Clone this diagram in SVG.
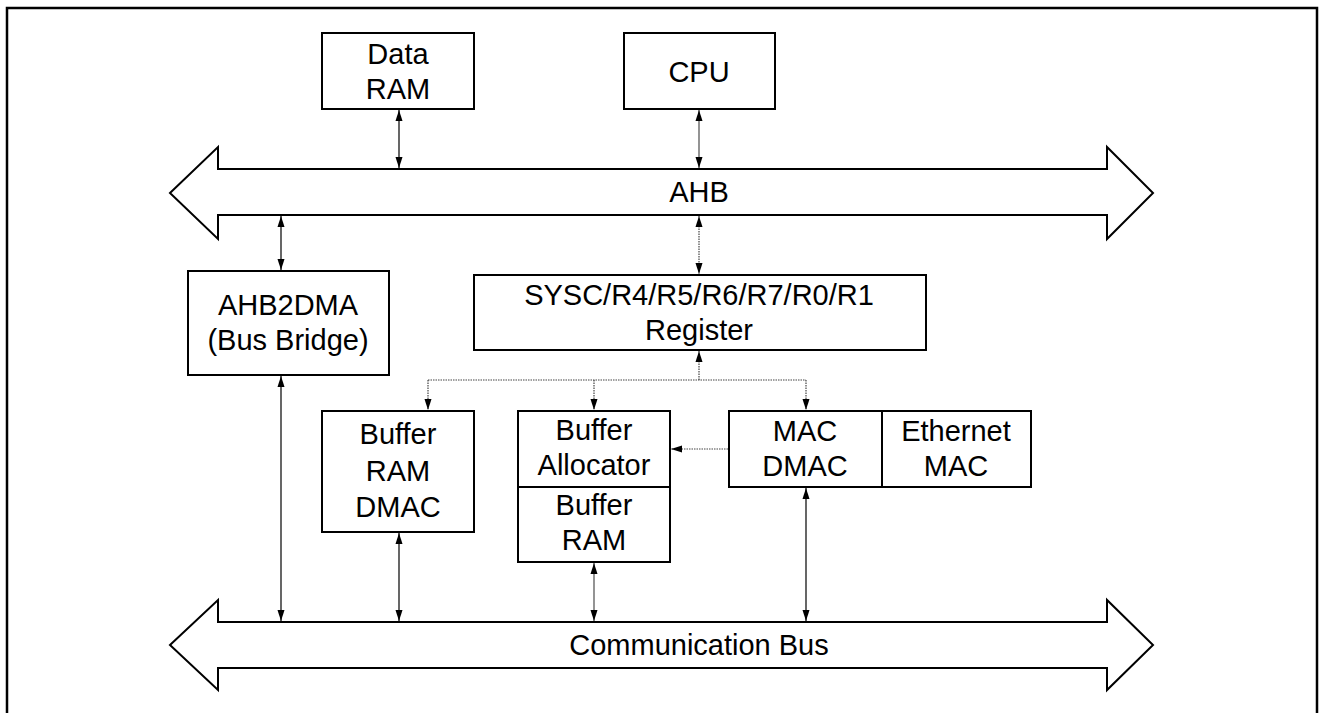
<svg xmlns="http://www.w3.org/2000/svg" width="1322" height="713" viewBox="0 0 1322 713">
<style>
.box{fill:#fff;stroke:#000;stroke-width:2}
.bus{fill:#fff;stroke:#000;stroke-width:2;stroke-linejoin:miter}
.t{font-family:"Liberation Sans",Arial,sans-serif;font-size:29px;fill:#000;text-anchor:middle}
.c{fill:none;stroke:#000;stroke-width:1.2}
.g{fill:none;stroke:#666;stroke-width:1.4}
.d{fill:none;stroke:#444;stroke-width:1.2;stroke-dasharray:1.5 1}
</style>
<defs>
<marker id="ah" markerWidth="11" markerHeight="8" refX="11" refY="4" orient="auto-start-reverse" markerUnits="userSpaceOnUse">
<path d="M0,0.5 L11,4 L0,7.5 z" fill="#000"/>
</marker>
</defs>
<rect width="1322" height="713" fill="#fff"/>
<path d="M7,713 V8 H1317 V713" fill="none" stroke="#000" stroke-width="2.5"/>

<g id="ahb">
<path class="bus" d="M170,193 L218,147 V169 H1107 V147 L1153,193 L1107,239 V215 H218 V239 Z"/>
<text class="t" x="699" y="202">AHB</text>
</g>
<g id="comm-bus">
<path class="bus" d="M170,645 L218,600 V622 H1107 V600 L1153,645 L1107,690 V668 H218 V690 Z"/>
<text class="t" x="699" y="655">Communication Bus</text>
</g>

<g id="data-ram">
<rect class="box" x="322" y="33" width="152" height="76"/>
<text class="t" x="398" y="64">Data</text>
<text class="t" x="398" y="99">RAM</text>
</g>
<g id="cpu">
<rect class="box" x="624" y="33" width="151" height="76"/>
<text class="t" x="699" y="82">CPU</text>
</g>
<g id="ahb2dma">
<rect class="box" x="188" y="271" width="201" height="104"/>
<text class="t" x="288" y="315">AHB2DMA</text>
<text class="t" x="288" y="350">(Bus Bridge)</text>
</g>
<g id="register">
<rect class="box" x="474" y="275" width="452" height="75"/>
<text class="t" x="699" y="305">SYSC/R4/R5/R6/R7/R0/R1</text>
<text class="t" x="699" y="340">Register</text>
</g>
<g id="buffer-ram-dmac">
<rect class="box" x="322" y="411" width="152" height="121"/>
<text class="t" x="398" y="444">Buffer</text>
<text class="t" x="398" y="481">RAM</text>
<text class="t" x="398" y="517">DMAC</text>
</g>
<g id="buffer-allocator">
<rect class="box" x="518" y="411" width="152" height="76"/>
<text class="t" x="594" y="440">Buffer</text>
<text class="t" x="594" y="475">Allocator</text>
</g>
<g id="buffer-ram">
<rect class="box" x="518" y="487" width="152" height="75"/>
<text class="t" x="594" y="515">Buffer</text>
<text class="t" x="594" y="550">RAM</text>
</g>
<g id="mac-dmac">
<rect class="box" x="729" y="411" width="153" height="76"/>
<text class="t" x="805" y="441">MAC</text>
<text class="t" x="805" y="476">DMAC</text>
</g>
<g id="ethernet-mac">
<rect class="box" x="882" y="411" width="149" height="76"/>
<text class="t" x="956" y="441">Ethernet</text>
<text class="t" x="956" y="476">MAC</text>
</g>

<g id="connectors">
<line class="c" x1="399" y1="110" x2="399" y2="168" marker-start="url(#ah)" marker-end="url(#ah)"/>
<line class="g" x1="699" y1="110" x2="699" y2="168" marker-start="url(#ah)" marker-end="url(#ah)"/>
<line class="c" x1="281" y1="216" x2="281" y2="270" marker-start="url(#ah)" marker-end="url(#ah)"/>
<line class="d" x1="699" y1="216" x2="699" y2="274" marker-start="url(#ah)" marker-end="url(#ah)"/>
<line class="d" x1="699" y1="380" x2="699" y2="351" marker-end="url(#ah)"/>
<line class="d" x1="428" y1="380" x2="806" y2="380"/>
<line class="d" x1="428" y1="380" x2="428" y2="410" marker-end="url(#ah)"/>
<line class="d" x1="594" y1="380" x2="594" y2="410" marker-end="url(#ah)"/>
<line class="d" x1="806" y1="380" x2="806" y2="410" marker-end="url(#ah)"/>
<line class="d" x1="728" y1="449" x2="671" y2="449" marker-end="url(#ah)"/>
<line class="c" x1="281" y1="376" x2="281" y2="621" marker-start="url(#ah)" marker-end="url(#ah)"/>
<line class="c" x1="399" y1="533" x2="399" y2="621" marker-start="url(#ah)" marker-end="url(#ah)"/>
<line class="g" x1="594" y1="563" x2="594" y2="621" marker-start="url(#ah)" marker-end="url(#ah)"/>
<line class="c" x1="806" y1="488" x2="806" y2="621" marker-start="url(#ah)" marker-end="url(#ah)"/>
</g>
</svg>
